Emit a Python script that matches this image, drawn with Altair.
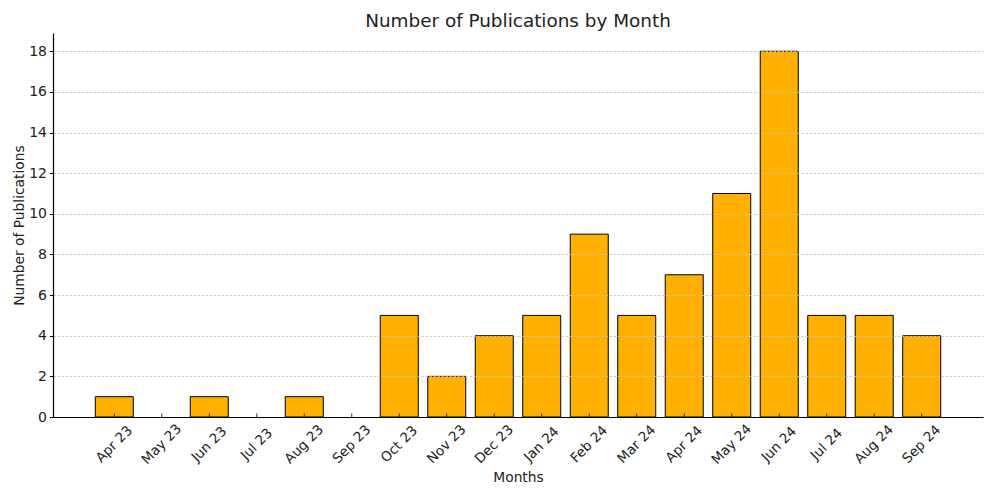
import altair as alt
import pandas as pd

months = ["Apr 23", "May 23", "Jun 23", "Jul 23", "Aug 23", "Sep 23", "Oct 23", "Nov 23", "Dec 23",
          "Jan 24", "Feb 24", "Mar 24", "Apr 24", "May 24", "Jun 24", "Jul 24", "Aug 24", "Sep 24"]
counts = [1, 0, 1, 0, 1, 0, 5, 2, 4, 5, 9, 5, 7, 11, 18, 5, 5, 4]
y_ticks = [0, 2, 4, 6, 8, 10, 12, 14, 16, 18]

df = pd.DataFrame({"Month": months, "Count": counts})

W, H = 930, 384
FONT = "DejaVu Sans"

xscale = alt.Scale(domain=months, paddingInner=0.2, paddingOuter=0.89)
yscale = alt.Scale(domain=[0, 18.9], nice=False, zero=True)

x_enc = alt.X("Month:N", sort=months, scale=xscale,
              axis=alt.Axis(title="Months", labelAngle=-45, labelAlign="center",
                            labelBaseline="middle", labelPadding=27, ticks=False, tickSize=0,
                            labelOverlap=False, grid=False, domainColor="black",
                            titleY=60, titleBaseline="middle", titleFontWeight="normal",
                            zindex=1))

bars = alt.Chart(df).mark_bar(color="#FFB000", stroke="black", strokeWidth=1).encode(
    x=x_enc,
    y=alt.Y("Count:Q", scale=yscale,
            axis=alt.Axis(title="Number of Publications", values=y_ticks, grid=True,
                          gridDash=[2.6, 1.4], gridColor="#c4c4c4", gridWidth=0.8,
                          tickSize=3.5, tickColor="black", domainColor="black",
                          labelPadding=3, labelFontSize=14, titleX=-34, titleY=H / 2,
                          titleAngle=-90, titleBaseline="middle", titleAlign="center",
                          titleFontWeight="normal", zindex=1)),
    strokeOpacity=alt.condition(alt.datum.Count > 0, alt.value(1), alt.value(0)),
)

ticks = alt.Chart(df).mark_rule(color="#333333", strokeWidth=1).encode(
    x=alt.X("Month:N", sort=months, scale=xscale),
    y=alt.value(H),
    y2=alt.value(H - 3.5),
)

chart = alt.layer(bars, ticks).properties(
    width=W, height=H,
    title=alt.TitleParams("Number of Publications by Month", anchor="middle", frame="group",
                          fontSize=18.4, font=FONT, fontWeight="normal", color="#222222",
                          baseline="alphabetic", offset=7, dy=19),
    autosize=alt.AutoSizeParams(type="none"),
    padding={"left": 45, "top": 25, "right": 5, "bottom": 70},
).configure_view(stroke=None).configure_axis(
    labelFont=FONT, titleFont=FONT, labelFontSize=13.6, titleFontSize=13.8,
    labelColor="#222222", titleColor="#222222", domainWidth=1.2,
)

chart.save("out.html", embed_options={"renderer": "svg", "actions": False})
